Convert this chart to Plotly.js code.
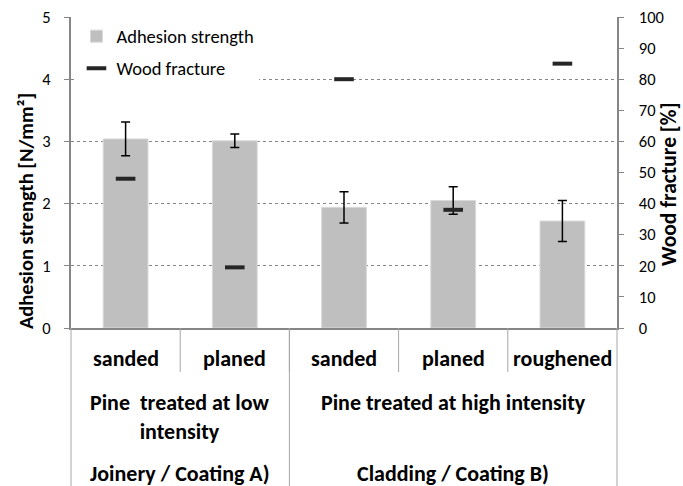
<!DOCTYPE html>
<html>
<head>
<meta charset="utf-8">
<script src="https://cdn.plot.ly/plotly-3.0.1.min.js"></script>
<style>html,body{margin:0;padding:0;background:#fff}#chart{width:683px;height:486px}</style>
</head>
<body>
<div id="chart"></div>
<script>
// Data
const treatments = ["sanded", "planed", "sanded", "planed", "roughened"];
const adhesionStrength = [3.04, 3.01, 1.94, 2.05, 1.72];
const adhesionError = [0.27, 0.11, 0.25, 0.22, 0.33];
const woodFracture = [48, 19.5, 80, 38, 85];
const woodLabels = ["Pine  treated at low<br>intensity", "Pine treated at high intensity"];
const useLabels = ["Joinery / Coating A)", "Cladding / Coating B)"];
const groupSizes = [2, 3];
const leftTitle = "Adhesion strength [N/mm²]";
const rightTitle = "Wood fracture [%]";

const FONT = "Carlito, Calibri, Lato, 'Open Sans', sans-serif";
const idx = treatments.map((_, i) => i);
const nCat = treatments.length;

const traces = [
  {
    type: "bar", x: idx, y: adhesionStrength, name: "Adhesion strength",
    width: 0.41, marker: {color: "#bfbfbf", line: {color: "#d9d9d9", width: 1}},
    error_y: {type: "data", array: adhesionError, visible: true, color: "#000", thickness: 1.5, width: 4.5},
    legendgroup: "a", hoverinfo: "none"
  },
  {
    type: "scatter", mode: "markers", x: idx, y: woodFracture, yaxis: "y2", name: "Wood fracture",
    marker: {symbol: "line-ew", size: 14, color: "#262626", line: {color: "#262626", width: 4}},
    legendgroup: "b", hoverinfo: "none"
  }
];

const shapes = [];
const annotations = [];
const lineCol = "#a6a6a6";
for (let k = 1; k < nCat; k++) {
  shapes.push({type: "line", xref: "paper", yref: "paper", x0: k / nCat, x1: k / nCat, y0: 0, y1: -0.1415, line: {color: lineCol, width: 1}});
}
let acc = 0;
const bounds = [0];
groupSizes.forEach(s => { acc += s; bounds.push(acc); });
bounds.forEach(b => {
  shapes.push({type: "line", xref: "paper", yref: "paper", x0: b / nCat, x1: b / nCat, y0: 0, y1: -0.51, line: {color: lineCol, width: 1}});
});
const CAT = {family: FONT, size: 22, color: "#000"};
treatments.forEach((t, i) => {
  annotations.push({xref: "x", yref: "paper", x: i, y: -0.0965, text: "<b>" + t + "</b>", showarrow: false, yanchor: "middle", font: CAT});
});
let start = 0;
groupSizes.forEach((s, g) => {
  const cx = start + (s - 1) / 2;
  annotations.push({xref: "x", yref: "paper", x: cx, y: -0.19, text: "<b>" + woodLabels[g] + "</b>", showarrow: false, yanchor: "top", font: CAT});
  annotations.push({xref: "x", yref: "paper", x: cx, y: -0.469, text: "<b>" + useLabels[g] + "</b>", showarrow: false, yanchor: "middle", font: CAT});
  start += s;
});
annotations.push({xref: "paper", yref: "paper", x: -0.0824, y: 0.376, xanchor: "center", yanchor: "middle", textangle: -90, text: "<b>" + leftTitle + "</b>", showarrow: false, font: {family: FONT, size: 20.5, color: "#000"}});
annotations.push({xref: "paper", yref: "paper", x: 1.0952, y: 0.463, xanchor: "center", yanchor: "middle", textangle: -90, text: "<b>" + rightTitle + "</b>", showarrow: false, font: {family: FONT, size: 21.5, color: "#000"}});

const layout = {
  width: 683, height: 486,
  margin: {l: 71, r: 66, t: 17, b: 158},
  paper_bgcolor: "#fff", plot_bgcolor: "#fff",
  font: {family: FONT, size: 17, color: "#000"},
  showlegend: true,
  legend: {x: 0.01, y: 0.998, xanchor: "left", yanchor: "top", bgcolor: "#fff", font: {family: FONT, size: 18.5, color: "#000"}, traceorder: "grouped", tracegroupgap: 5},
  xaxis: {range: [-0.5, nCat - 0.5], showticklabels: false, ticks: "", showgrid: false, zeroline: false,
          showline: true, linecolor: "#868686", linewidth: 2, fixedrange: true},
  yaxis: {range: [0, 5], dtick: 1, ticks: "outside", ticklen: 5, tickcolor: "#868686", tickwidth: 1, ticklabelstandoff: 10,
          showline: true, linecolor: "#868686", linewidth: 2, zeroline: false,
          showgrid: true, gridcolor: "#868686", griddash: "dot", gridwidth: 1,
          tickfont: {family: FONT, size: 16.5, color: "#000"}},
  yaxis2: {range: [0, 100], dtick: 10, overlaying: "y", side: "right", ticks: "outside", ticklen: 5, tickcolor: "#868686",
           tickprefix: "\u2002\u2009",
           showline: true, linecolor: "#868686", linewidth: 2, zeroline: false, showgrid: false,
           tickfont: {family: FONT, size: 16.5, color: "#000"}},
  shapes: shapes,
  annotations: annotations
};

Plotly.newPlot("chart", traces, layout, {displayModeBar: false, staticPlot: true});
</script>
</body>
</html>
